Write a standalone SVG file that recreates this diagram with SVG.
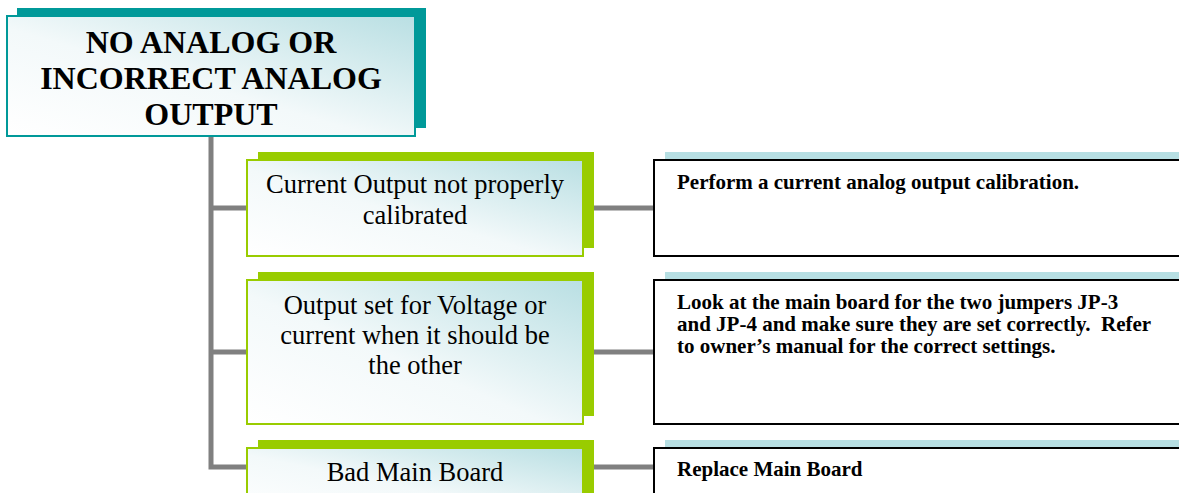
<svg xmlns="http://www.w3.org/2000/svg" width="1179" height="493" viewBox="0 0 1179 493">
<defs>
<linearGradient id="g" x1="0" y1="1" x2="1" y2="0">
<stop offset="0" stop-color="#ffffff"/>
<stop offset="0.45" stop-color="#f3f9fa"/>
<stop offset="1" stop-color="#b9dfe3"/>
</linearGradient>
<style>
.conn{stroke:#808080;stroke-width:5;fill:none}
.tshadow{fill:#009999}
.tbox{fill:url(#g);stroke:#009999;stroke-width:2}
.gshadow{fill:#99cc00}
.gbox{fill:url(#g);stroke:#99cc00;stroke-width:2}
.bbar{fill:#b7dfe3}
.bbox{fill:#ffffff;stroke:#000000;stroke-width:2}
.title{font-family:"Liberation Serif","Times New Roman",serif;font-weight:bold;font-size:32px;fill:#000;text-anchor:middle}
.cause{font-family:"Liberation Serif","Times New Roman",serif;font-size:26.5px;fill:#000;text-anchor:middle}
.fix{font-family:"Liberation Serif","Times New Roman",serif;font-weight:bold;font-size:21px;fill:#000}
</style>
</defs>
<g id="connectors">
<path class="conn" d="M211,137 V467 H247"/>
<path class="conn" d="M211,208 H247"/>
<path class="conn" d="M211,352 H247"/>
<path class="conn" d="M583,208 H654"/>
<path class="conn" d="M583,352 H654"/>
<path class="conn" d="M583,467 H654"/>
</g>
<g id="title">
<rect class="tshadow" x="17" y="8" width="409" height="120"/>
<rect class="tbox" x="7" y="16" width="408" height="120"/>
<text class="title" x="211" y="53">NO ANALOG OR</text>
<text class="title" x="211" y="89">INCORRECT ANALOG</text>
<text class="title" x="211" y="125">OUTPUT</text>
</g>
<g id="cause1">
<rect class="gshadow" x="258" y="152" width="336" height="96"/>
<rect class="gbox" x="247" y="160" width="336" height="96"/>
<text class="cause" x="415" y="193">Current Output not properly</text>
<text class="cause" x="415" y="224">calibrated</text>
</g>
<g id="cause2">
<rect class="gshadow" x="258" y="272" width="336" height="144"/>
<rect class="gbox" x="247" y="280" width="336" height="144"/>
<text class="cause" x="415" y="314">Output set for Voltage or</text>
<text class="cause" x="415" y="344">current when it should be</text>
<text class="cause" x="415" y="374">the other</text>
</g>
<g id="cause3">
<rect class="gshadow" x="258" y="440" width="336" height="70"/>
<rect class="gbox" x="247" y="448" width="336" height="70"/>
<text class="cause" x="415" y="481">Bad Main Board</text>
</g>
<g id="fix1">
<rect class="bbar" x="665" y="152" width="530" height="8"/>
<rect class="bbox" x="654" y="160" width="540" height="96"/>
<text class="fix" x="677" y="189">Perform a current analog output calibration.</text>
</g>
<g id="fix2">
<rect class="bbar" x="665" y="272" width="530" height="8"/>
<rect class="bbox" x="654" y="280" width="540" height="144"/>
<text class="fix" x="677" y="309">Look at the main board for the two jumpers JP-3</text>
<text class="fix" x="677" y="331" xml:space="preserve">and JP-4 and make sure they are set correctly.  Refer</text>
<text class="fix" x="677" y="353">to owner’s manual for the correct settings.</text>
</g>
<g id="fix3">
<rect class="bbar" x="665" y="440" width="530" height="8"/>
<rect class="bbox" x="654" y="448" width="540" height="70"/>
<text class="fix" x="677" y="476">Replace Main Board</text>
</g>
</svg>
